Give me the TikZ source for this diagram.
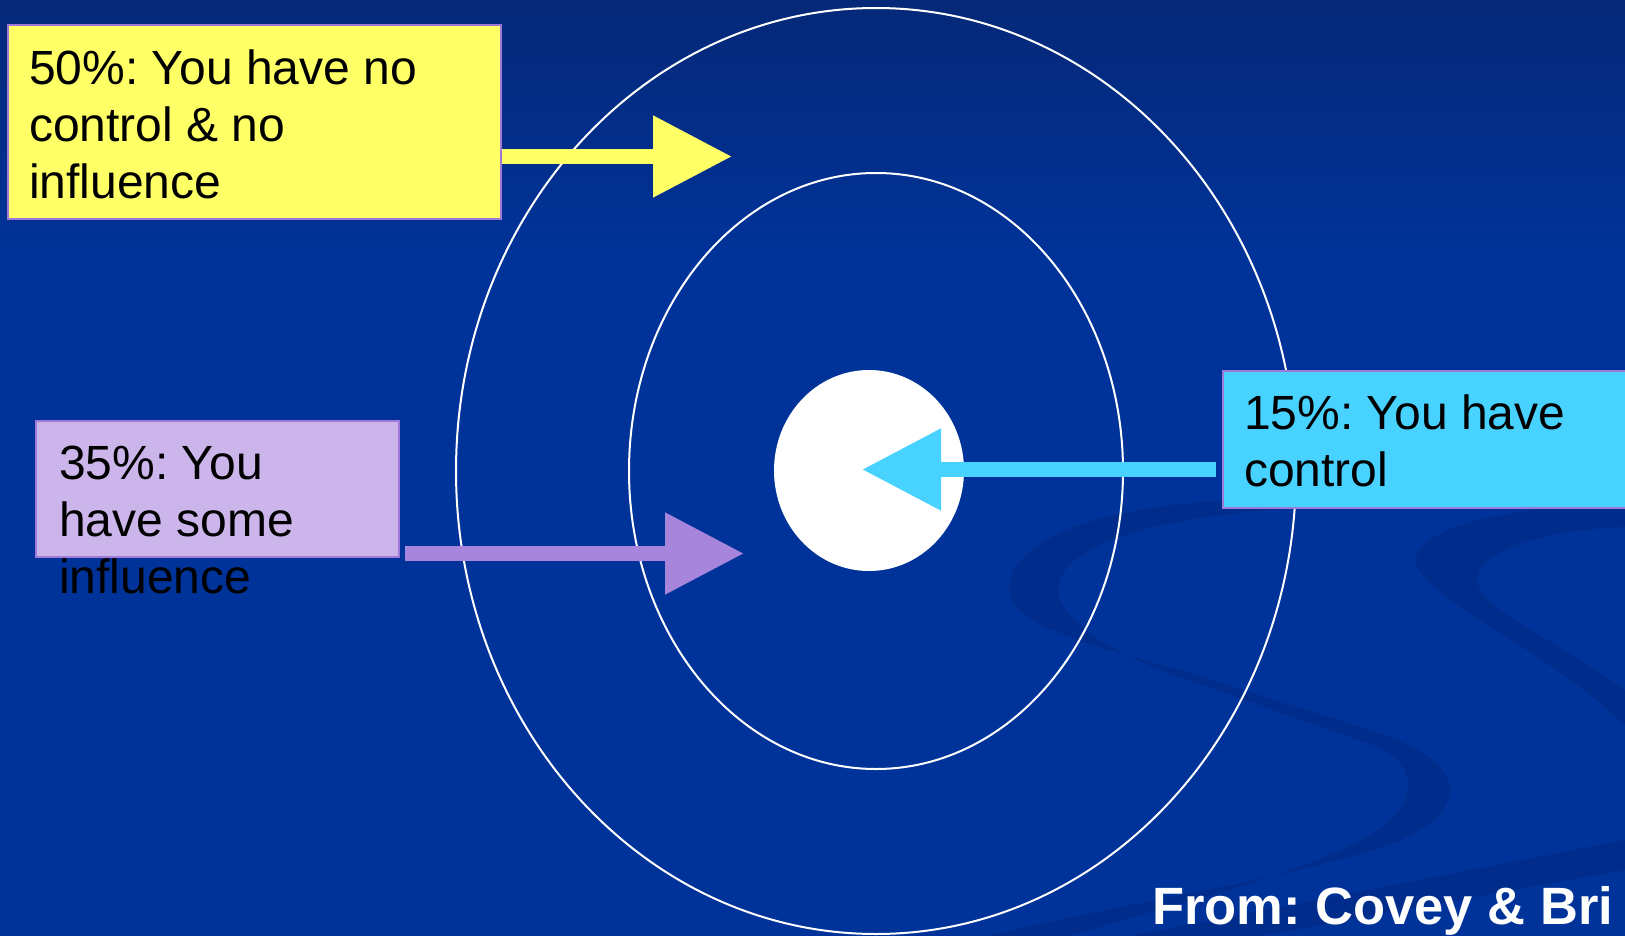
\documentclass[tikz,border=0pt]{standalone}
\usepackage{fontspec}
\setmainfont{Liberation Sans}
\usetikzlibrary{arrows.meta,shapes.geometric,calc}
\definecolor{bgblue}{RGB}{0,51,153}
\definecolor{bgtop}{RGB}{5,40,120}
\definecolor{swirl}{RGB}{0,45,140}
\definecolor{yfill}{RGB}{255,255,102}
\definecolor{pfill}{RGB}{203,181,234}
\definecolor{parrow}{RGB}{168,133,220}
\definecolor{cfill}{RGB}{72,210,255}
\definecolor{boxline}{RGB}{160,120,215}
\frenchspacing
\begin{document}
\begin{tikzpicture}[x=1pt,y=-1pt,
  lbl/.style={anchor=north west, inner sep=0pt, align=left, font=\fontsize{48}{57}\selectfont, text=black},
  box/.style={draw=boxline, line width=2.5pt, anchor=north west, inner sep=0pt, outer sep=0pt},
  ring/.style={draw=white, line width=2pt, ellipse, inner sep=0pt},
  blockarrow/.style={line width=15pt, -{Triangle[length=79pt,width=78pt]}}]
\useasboundingbox (0,0) rectangle (1625,936);
\clip (0,0) rectangle (1625,936);
% background
\fill[bgblue] (0,0) rectangle (1625,936);
\shade[top color=bgtop, bottom color=bgblue] (0,0) rectangle (1625,260);
% swirls
\fill[swirl] (1240,500) .. controls (1080,505) and (1000,550) .. (1010,595)
 .. controls (1020,632) and (1120,652) .. (1200,676)
 -- (1385,735)
 .. controls (1470,765) and (1475,815) .. (1380,848)
 .. controls (1260,885) and (1110,905) .. (990,936)
 -- (1070,936)
 .. controls (1170,905) and (1290,878) .. (1365,838)
 .. controls (1425,805) and (1415,765) .. (1380,748)
 -- (1200,684)
 .. controls (1120,660) and (1045,615) .. (1060,580)
 .. controls (1075,540) and (1170,515) .. (1300,508)
 -- cycle;
\fill[swirl] (1625,505) .. controls (1490,505) and (1395,535) .. (1420,572)
 .. controls (1450,612) and (1545,650) .. (1625,725)
 -- (1625,690) .. controls (1555,640) and (1485,610) .. (1478,585)
 .. controls (1470,555) and (1535,530) .. (1625,527) -- cycle;
\fill[swirl] (1130,936) -- (1625,840) -- (1625,870) -- (1260,936) -- cycle;
% rings
\node[ring, minimum width=840pt, minimum height=926pt] (outer) at (876,471) {};
\node[ring, minimum width=494pt, minimum height=596pt] (middle) at (876,471) {};
\node[ellipse, fill=white, inner sep=0pt, minimum width=190pt, minimum height=201pt] (core) at (869,470.5) {};
% arrows
\coordinate (ys) at (501,156.5);
\coordinate (yt) at (732,156.5);
\coordinate (ps) at (405,553.5);
\coordinate (pt) at (744,553.5);
\coordinate (cs) at (1216,469.5);
\coordinate (ct) at (862,469.5);
\draw[blockarrow, color=yfill] (ys) -- (yt);
\draw[blockarrow, color=parrow] (ps) -- (pt);
\draw[blockarrow, color=cfill] (cs) -- (ct);
% boxes
\node[box, fill=yfill, minimum width=493pt, minimum height=194pt] (ybox) at (8,25) {};
\node[box, fill=pfill, minimum width=363pt, minimum height=136pt] (pbox) at (36,421) {};
\node[box, fill=cfill, minimum width=420pt, minimum height=137pt] (cbox) at (1223,371) {};
% texts
\node[lbl] (ytext) at (29,50) {50\%: You have no\\control \& no\\influence};
\node[lbl] (ptext) at (59,446) {35\%: You\\have some\\influence};
\node[lbl] (ctext) at (1244,395) {15\%: You have\\control};
\node[anchor=base west, inner sep=0pt, text=white, font=\fontsize{52.5}{60}\selectfont\bfseries] (src) at (1152,924) {From: Covey \& Bri};
\end{tikzpicture}
\end{document}
